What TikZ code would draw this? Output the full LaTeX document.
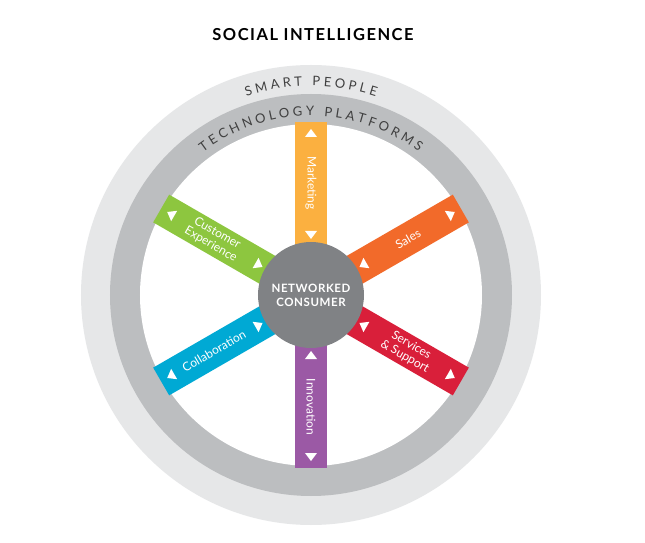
\documentclass[tikz,border=0pt]{standalone}
\usepackage{fontspec}
\setmainfont{Lato}
\usetikzlibrary{decorations.text}

\definecolor{ringlight}{HTML}{E6E7E8}
\definecolor{ringdark}{HTML}{BCBEC0}
\definecolor{hubgray}{HTML}{808285}
\definecolor{marketing}{HTML}{FBB040}
\definecolor{sales}{HTML}{F26A2A}
\definecolor{services}{HTML}{D91F3A}
\definecolor{innovation}{HTML}{9B59A5}
\definecolor{collab}{HTML}{00A9D4}
\definecolor{custexp}{HTML}{8DC63F}

\tikzset{
	spokelabel/.style={text=white,font=\fontsize{12}{13}\selectfont,align=center,inner sep=0pt},
	tip/.style={fill=white}
}
% one spoke: angle, colour, text rotation, label
\newcommand{\spoke}[5]{
	\begin{scope}[rotate=#1]
		\fill[#2] (40,-16) rectangle (173,16);
		\fill[tip] (64,-6) -- (64,6) -- (56,0) -- cycle;
		\fill[tip] (158,-6) -- (158,6) -- (166,0) -- cycle;
		\node[spokelabel,rotate=#3] (#4) at (112,0) {#5};
	\end{scope}
}

\begin{document}
\begin{tikzpicture}[x=1pt,y=1pt]
	\useasboundingbox (-311,-248) rectangle (334,295);
	\fill[white] (-311,-248) rectangle (334,295);

	\node[font=\bfseries\fontsize{16.5}{16}\selectfont\addfontfeature{LetterSpace=9}] (title) at (2,260) {SOCIAL INTELLIGENCE};

	\fill[ringlight] (0,0) circle (230);
	\fill[ringdark] (0,0) circle (201);
	\fill[white] (0,0) circle (171);

	\path[decorate,decoration={text along path,text align=center,
		text={|\fontsize{13}{13}\selectfont\color{black!75}|S{ }M{ }A{ }R{ }T{ }{ }{ }P{ }E{ }O{ }P{ }L{ }E}}]
		(160:209) arc (160:20:209);
	\path[decorate,decoration={text along path,text align=center,
		text={|\fontsize{13}{13}\selectfont\color{black!75}|T{ }E{ }C{ }H{ }N{ }O{ }L{ }O{ }G{ }Y{ }{ }{ }P{ }L{ }A{ }T{ }F{ }O{ }R{ }M{ }S}}]
		(162:179) arc (162:18:179);

	\spoke{90}{marketing}{-90}{mkt}{Marketing}
	\spoke{30}{sales}{30}{sls}{Sales}
	\spoke{-30}{services}{-30}{svc}{Services\\\& Support}
	\spoke{-90}{innovation}{-90}{inv}{Innovation}
	\spoke{210}{collab}{30}{col}{Collaboration}
	\spoke{150}{custexp}{-30}{cex}{Customer\\Experience}

	\fill[hubgray] (0,0) circle (53);
	\node[text=white,font=\bfseries\fontsize{11.5}{14}\selectfont\addfontfeature{LetterSpace=5},align=center] (hub) at (0,0) {NETWORKED\\CONSUMER};
\end{tikzpicture}
\end{document}
